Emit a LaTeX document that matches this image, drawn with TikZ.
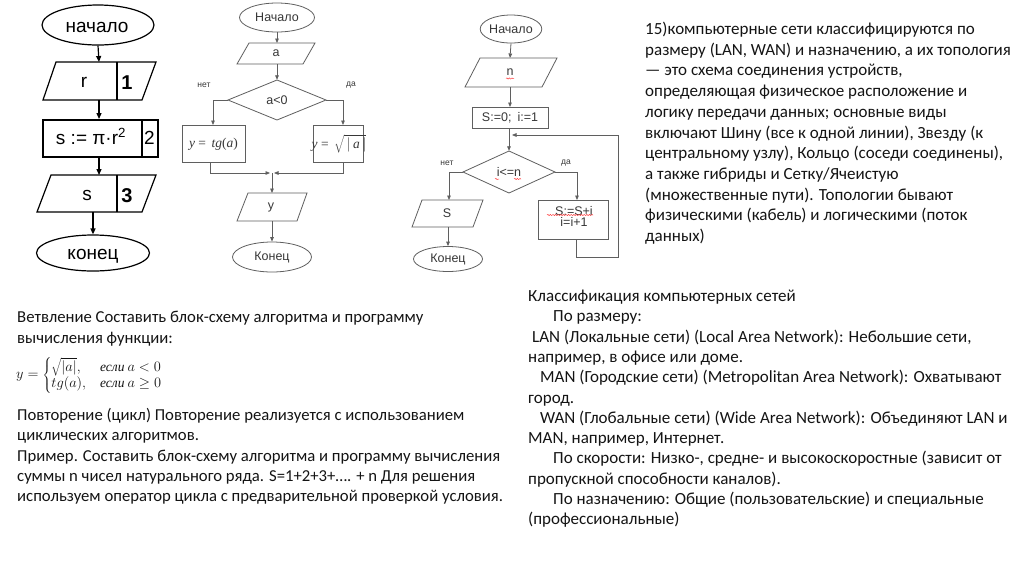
\documentclass[tikz,border=0pt]{standalone}
\usepackage{fontspec}
\setmainfont{Carlito}
\newfontfamily\arial{Liberation Sans}
\newfontfamily\tnr{Liberation Serif}
\usetikzlibrary{shapes.geometric,arrows.meta,decorations.pathmorphing}
\definecolor{gline}{RGB}{95,95,95}
\definecolor{gtxt}{RGB}{55,55,55}
\definecolor{btxt}{RGB}{20,20,20}
\begin{document}
\begin{tikzpicture}[x=1pt,y=-1pt,
  every node/.style={inner sep=0pt},
  fcone/.style={draw=black,line width=1.2pt},
  fcthick/.style={draw=black,line width=1.9pt},
  fctwo/.style={draw=gline,line width=0.8pt},
  arone/.style={-{Triangle[length=6pt,width=5pt]},line width=1.2pt},
  artwo/.style={-{Triangle[length=4.5pt,width=3.6pt]},draw=gline,line width=0.8pt},
  tone/.style={font=\arial\fontsize{19}{21}\selectfont,anchor=base},
  tonebf/.style={font=\arial\bfseries\fontsize{20}{22}\selectfont,anchor=base},
  ttwo/.style={font=\arial\fontsize{12.5}{14}\selectfont,text=gtxt},
  tmath/.style={font=\tnr\fontsize{13.5}{15}\selectfont,text=gtxt},
  lbl/.style={font=\arial\fontsize{8.5}{10}\selectfont,text=gtxt},
  body/.style={anchor=base west,text=btxt},
  squig/.style={draw=red!75,line width=0.5pt,decorate,decoration={snake,amplitude=0.6pt,segment length=2.6pt}},
]
\useasboundingbox[fill=white] (0,0) rectangle (1024,574);

% ---------------- chart 1 ----------------
\node[fcone,ellipse,minimum width=112,minimum height=40] (e1) at (98,25) {};
\node[tone] (e1t) at (97,32) {начало};
\coordinate (p1t) at (99,62);
\coordinate (p1b) at (99,100);
\draw[fcone] (56,62) -- (156,62) -- (142,100) -- (43,100) -- cycle;
\draw[fcone] (117,62) -- (117,100);
\node[tone] (p1a) at (84,87.5) {r};
\node[tonebf] (p1n) at (127,89) {1};
\node[fcthick,minimum width=115,minimum height=37,anchor=north west] (r1) at (42,119) {};
\draw[fcthick] (142,119) -- (142,156);
\node[tone] (r1a) at (91,144) {s := π·r\textsuperscript{2}};
\node[tone] (r1n) at (149.5,144) {2};
\coordinate (p3t) at (99,175);
\coordinate (p3b) at (93,212);
\draw[fcone] (51,175) -- (156,175) -- (142,212) -- (37,212) -- cycle;
\draw[fcone] (117,175) -- (117,212);
\node[tone] (p3a) at (87,200.5) {s};
\node[tonebf] (p3n) at (127,202) {3};
\node[fcone,ellipse,minimum width=113,minimum height=36] (e2) at (93,253) {};
\node[tone] (e2t) at (93,259.5) {конец};
\draw[arone] (e1.south) -- (p1t);
\draw[arone] (p1b) -- (r1.north -| p1b);
\draw[arone] (r1.south -| p1b) -- (p3t);
\draw[arone] (p3b) -- (e2.north);

% ---------------- chart 2 ----------------
\node[fctwo,ellipse,minimum width=75,minimum height=29,ttwo] (b1) at (277,17.5) {Начало};
\draw[fctwo] (249,43) -- (315,43) -- (303,64) -- (237,64) -- cycle;
\node[ttwo] (b2) at (276,53.5) {a};
\coordinate (b2t) at (277,43);
\coordinate (b2b) at (277,64);
\node[diamond,minimum width=97,minimum height=40,ttwo] (b3) at (277,100) {};
\draw[fctwo] (228,100) -- (277,80) -- (326,100) -- (277,120) -- cycle;
\node[ttwo] (b3t) at (277,100) {a<0};
\node[lbl] (b3no) at (204,85) {нет};
\node[lbl] (b3yes) at (351,85) {да};
\node[fctwo,minimum width=63,minimum height=37,anchor=north west] (b4) at (182,125) {};
\node[tmath] (b4t) at (213.5,144) {\itshape y \upshape=\, \itshape tg\upshape(\itshape a\upshape)};
\node[fctwo,minimum width=50,minimum height=37,anchor=north west] (b5) at (313,125) {};
\node[tmath] (b5t) at (339,144) {\itshape y \upshape=\, $\sqrt{\,|\,\mbox{\itshape a}\,|}$};
\coordinate (b4in) at (213,125);
\coordinate (b5in) at (343,125);
\coordinate (b4out) at (210,162);
\coordinate (b5out) at (343,162);
\coordinate (jl) at (270,173);
\coordinate (jr) at (274,173);
\coordinate (jm) at (272,173);
\draw[fctwo] (248,193) -- (307,193) -- (297,221) -- (237,221) -- cycle;
\node[ttwo] (b6) at (271,207) {y};
\coordinate (b6t) at (272,193);
\coordinate (b6b) at (272,221);
\node[fctwo,ellipse,minimum width=79,minimum height=30,ttwo] (b7) at (272,257) {Конец};
\draw[artwo] (b1.south) -- (b2t);
\draw[artwo] (b2b) -- (b3.north);
\draw[artwo] (b3.west) -| (b4in);
\draw[artwo] (b3.east) -| (b5in);
\draw[artwo] (b4out) |- (jl);
\draw[artwo] (b5out) |- (jr);
\draw[artwo] (jm) -- (b6t);
\draw[artwo] (b6b) -- (b7.north);

% ---------------- chart 3 ----------------
\node[fctwo,ellipse,minimum width=58,minimum height=28,ttwo] (c1) at (511,29) {Начало};
\draw[fctwo] (480,58) -- (557,58) -- (542,87) -- (465,87) -- cycle;
\node[ttwo] (c2) at (510,72) {n};
\coordinate (c2t) at (510,58);
\coordinate (c2b) at (510,87);
\node[fctwo,minimum width=76,minimum height=21,anchor=north west] (c3) at (472,107) {};
\node[ttwo] (c3t) at (510,117.5) {S:=0;\hspace{6pt}i:=1};
\coordinate (c3b) at (509,128);
\node[diamond,minimum width=92,minimum height=42] (c4) at (509,172) {};
\draw[fctwo] (463,172) -- (509,151) -- (555,172) -- (509,193) -- cycle;
\node[ttwo] (c4t) at (509,172) {i<=n};
\node[lbl] (c4no) at (447,163) {нет};
\node[lbl] (c4yes) at (566,163) {да};
\draw[fctwo] (422,200) -- (483,200) -- (473,227) -- (412,227) -- cycle;
\node[ttwo] (c5) at (447,213) {S};
\coordinate (c5t) at (449,200);
\coordinate (c5b) at (448,227);
\node[fctwo,ellipse,minimum width=69,minimum height=25,ttwo] (c6) at (448,259) {Конец};
\node[fctwo,minimum width=70,minimum height=39,anchor=north west] (c7) at (538,200) {};
\node[ttwo,align=center,font=\arial\fontsize{12.5}{11.5}\selectfont] (c7t) at (574,216.5) {S:=S+i\\i=i+1};
\coordinate (c7in) at (577,200);
\coordinate (c7out) at (576,239);
\coordinate (lpa) at (576,257);
\coordinate (lpb) at (618,257);
\coordinate (lpc) at (618,135);
\coordinate (lpd) at (512,135);
\draw[artwo] (c1.south) -- (c2t);
\draw[artwo] (c2b) -- (c3.north -| c2b);
\draw[artwo] (c3b) -- (c4.north);
\draw[artwo] (c4.west) -| (c5t);
\draw[artwo] (c4.east) -| (c7in);
\draw[artwo] (c5b) -- (c6.north);
\draw[artwo] (c7out) -- (lpa) -- (lpb) -- (lpc) -- (lpd);
\draw[squig] (506,78.5) -- (514,78.5);
\draw[squig] (495,179) -- (499,179);
\draw[squig] (514,179) -- (521,179);
\draw[squig] (547,215) -- (593,215);

% ---------------- texts ----------------
\node[body] (txa) at (645,34.5) {\parbox[t]{380pt}{\raggedright\fontsize{17}{20.7}\selectfont
15)компьютерные сети классифицируются по\\
размеру (LAN, WAN) и назначению, а их топология\\
— это схема соединения устройств,\\
определяющая физическое расположение и\\
логику передачи данных; основные виды\\
включают Шину (все к одной линии), Звезду (к\\
центральному узлу), Кольцо (соседи соединены),\\
а также гибриды и Сетку/Ячеистую\\
(множественные пути). Топологии бывают\\
физическими (кабель) и логическими (поток\\
данных)}};

\node[body] (txb) at (17,322.5) {\parbox[t]{500pt}{\raggedright\fontsize{16.7}{20.5}\selectfont
Ветвление Составить блок-схему алгоритма и программу\\
вычисления функции:}};

\node[anchor=west,font=\fontsize{13.5}{15}\selectfont,text=btxt] (fml) at (16,375)
{\renewcommand{\arraystretch}{1.1}$y=\left\{\begin{array}{@{}l@{\hspace{14pt}}l@{}}\sqrt{|a|}, & \mbox{\tnr\itshape если} \ a<0\\ tg(a), & \mbox{\tnr\itshape если} \ a\ge 0\end{array}\right.$};

\node[body] (txc) at (17,420.5) {\parbox[t]{510pt}{\raggedright\fontsize{16.7}{20}\selectfont
Повторение (цикл) Повторение реализуется с использованием\\
циклических алгоритмов.\\[0.5pt]
Пример. Составить блок-схему алгоритма и программу вычисления\\
суммы n чисел натурального ряда. S=1+2+3+…. + n Для решения\\
используем оператор цикла с предварительной проверкой условия.}};

\node[body] (txd) at (528,301.5) {\parbox[t]{495pt}{\raggedright\fontsize{17}{20.3}\selectfont
Классификация компьютерных сетей\\
\hspace*{25pt}По размеру:\\
\hspace*{4pt}LAN (Локальные сети) (Local Area Network): Небольшие сети,\\
например, в офисе или доме.\\
\hspace*{12pt}MAN (Городские сети) (Metropolitan Area Network): Охватывают\\
город.\\
\hspace*{12pt}WAN (Глобальные сети) (Wide Area Network): Объединяют LAN и\\
MAN, например, Интернет.\\
\hspace*{25pt}По скорости: Низко-, средне- и высокоскоростные (зависит от\\
пропускной способности каналов).\\
\hspace*{25pt}По назначению: Общие (пользовательские) и специальные\\
(профессиональные)}};
\end{tikzpicture}
\end{document}
